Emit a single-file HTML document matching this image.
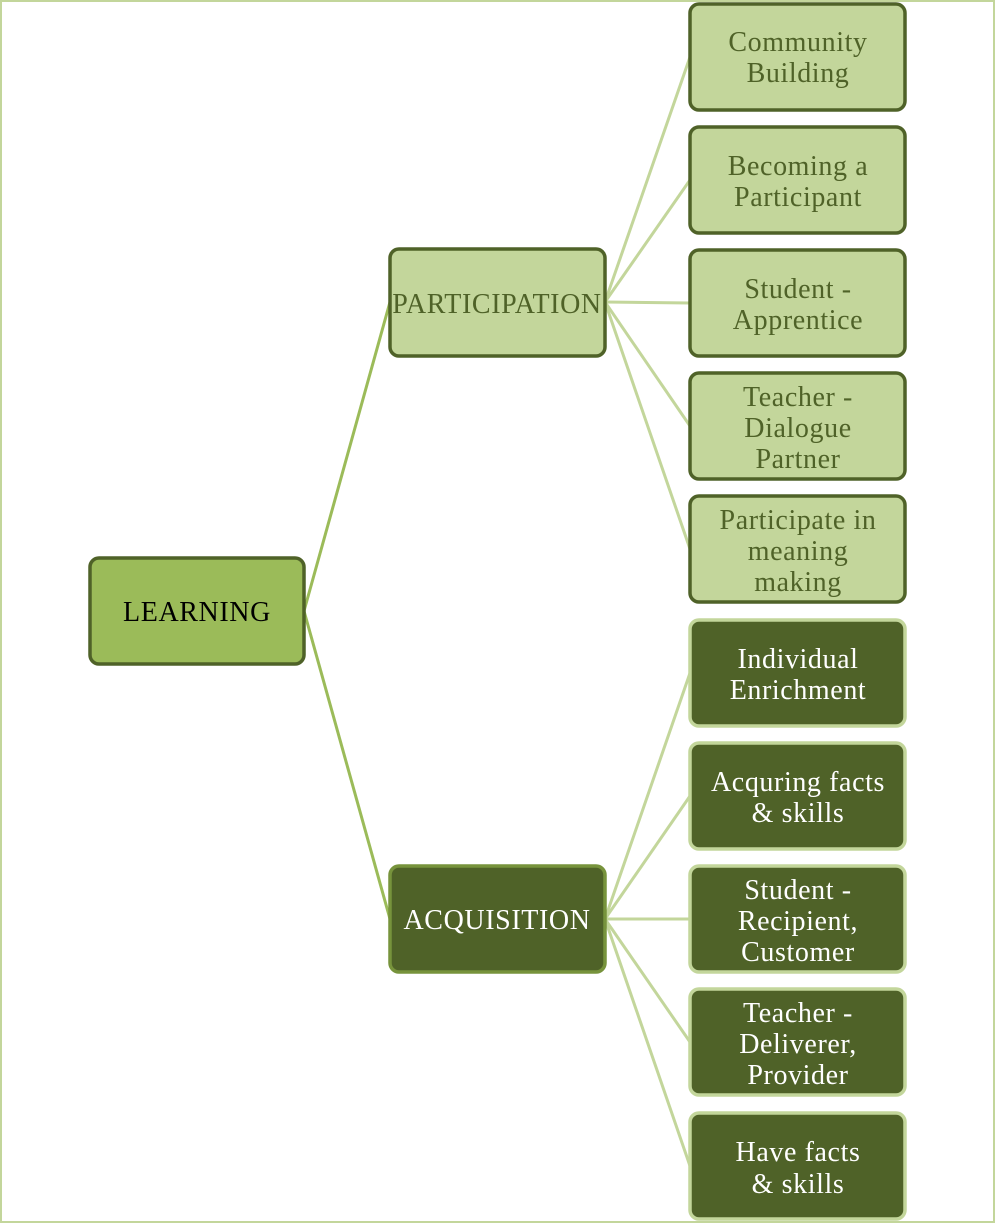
<!DOCTYPE html>
<html><head><meta charset="utf-8"><style>
html,body{margin:0;padding:0;background:#fff;}
svg{display:block;}
text{font-family:"Liberation Serif",serif;font-size:28px;letter-spacing:0.6px;text-anchor:middle;}
</style></head><body>
<svg width="995" height="1223" viewBox="0 0 995 1223" xmlns="http://www.w3.org/2000/svg">
<rect x="1" y="1" width="993" height="1221" fill="none" stroke="#c3d69b" stroke-width="2"/>
<g stroke="#9bbb59" stroke-width="3" fill="none">
<line x1="304" y1="611" x2="390" y2="302"/>
<line x1="304" y1="611" x2="390" y2="919"/>
</g>
<g stroke="#c3d69b" stroke-width="3" fill="none">
<line x1="605" y1="302" x2="690" y2="57"/>
<line x1="605" y1="302" x2="690" y2="180"/>
<line x1="605" y1="302" x2="690" y2="303"/>
<line x1="605" y1="302" x2="690" y2="426"/>
<line x1="605" y1="302" x2="690" y2="549"/>
<line x1="605" y1="919" x2="690" y2="673"/>
<line x1="605" y1="919" x2="690" y2="796"/>
<line x1="605" y1="919" x2="690" y2="919"/>
<line x1="605" y1="919" x2="690" y2="1042"/>
<line x1="605" y1="919" x2="690" y2="1166"/>
</g>
<rect x="90" y="558" width="214" height="106" rx="9" fill="#9bbb59" stroke="#4f6228" stroke-width="3.5"/>
<text x="197" y="621" fill="#000">LEARNING</text>
<rect x="390" y="249" width="215" height="107" rx="9" fill="#c3d69b" stroke="#4f6228" stroke-width="3.5"/>
<text x="497" y="313" fill="#4f6228">PARTICIPATION</text>
<rect x="390" y="866" width="215" height="106" rx="9" fill="#4f6228" stroke="#77933c" stroke-width="3.5"/>
<text x="497" y="929" fill="#fff">ACQUISITION</text>
<g fill="#c3d69b" stroke="#4f6228" stroke-width="3.5">
<rect x="690" y="4" width="215" height="106" rx="9"/>
<rect x="690" y="127" width="215" height="106" rx="9"/>
<rect x="690" y="250" width="215" height="106" rx="9"/>
<rect x="690" y="373" width="215" height="106" rx="9"/>
<rect x="690" y="496" width="215" height="106" rx="9"/>
</g>
<g fill="#4f6228" stroke="#c3d69b" stroke-width="3.5">
<rect x="690" y="620" width="215" height="106" rx="9"/>
<rect x="690" y="743" width="215" height="106" rx="9"/>
<rect x="690" y="866" width="215" height="106" rx="9"/>
<rect x="690" y="989" width="215" height="106" rx="9"/>
<rect x="690" y="1113" width="215" height="106" rx="9"/>
</g>
<g fill="#4f6228">
<text x="798" y="51">Community</text><text x="798" y="82">Building</text>
<text x="798" y="175">Becoming a</text><text x="798" y="206">Participant</text>
<text x="798" y="298">Student -</text><text x="798" y="329">Apprentice</text>
<text x="798" y="406">Teacher -</text><text x="798" y="437">Dialogue</text><text x="798" y="468">Partner</text>
<text x="798" y="529">Participate in</text><text x="798" y="560">meaning</text><text x="798" y="591">making</text>
</g>
<g fill="#fff">
<text x="798" y="668">Individual</text><text x="798" y="699">Enrichment</text>
<text x="798" y="791">Acquring facts</text><text x="798" y="822">&amp; skills</text>
<text x="798" y="899">Student -</text><text x="798" y="930">Recipient,</text><text x="798" y="961">Customer</text>
<text x="798" y="1022">Teacher -</text><text x="798" y="1053">Deliverer,</text><text x="798" y="1084">Provider</text>
<text x="798" y="1161">Have facts</text><text x="798" y="1193">&amp; skills</text>
</g>
</svg>
</body></html>
